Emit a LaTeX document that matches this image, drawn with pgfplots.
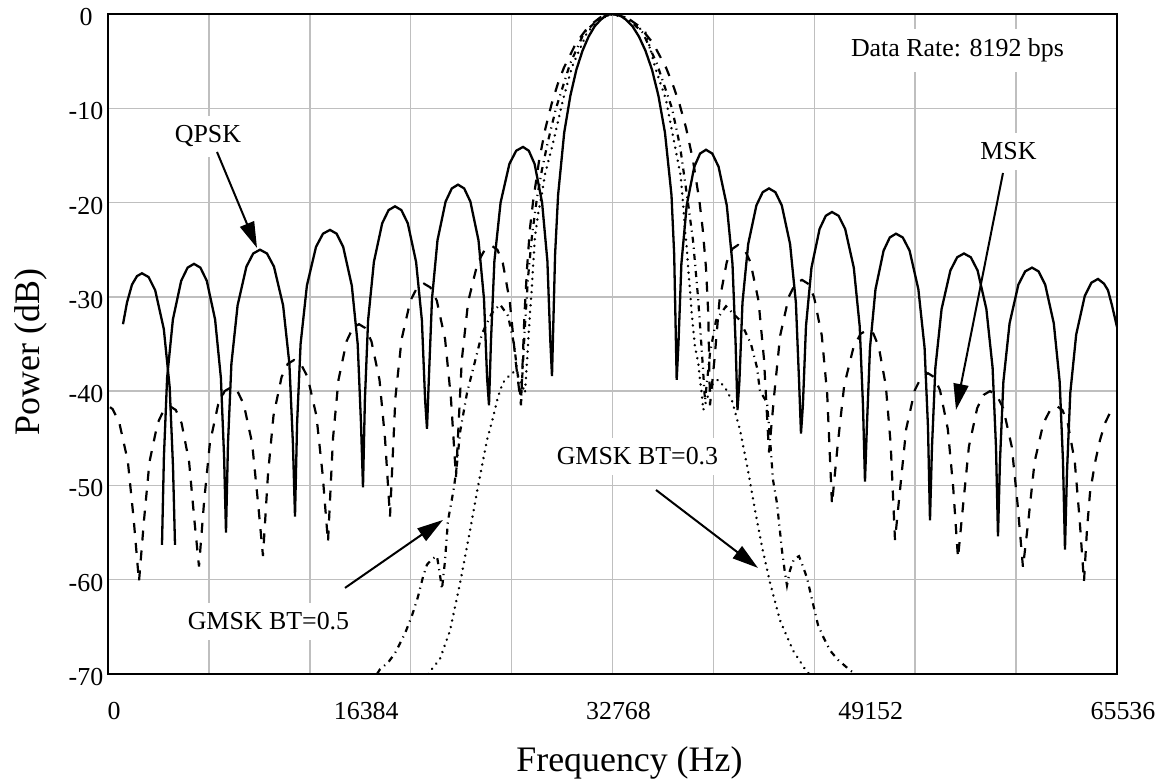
\documentclass[border=0pt]{standalone}
\usepackage{fontspec}
\setmainfont{Liberation Serif}
\usepackage{pgfplots}
\pgfplotsset{compat=1.18}
\usetikzlibrary{arrows.meta}
\begin{document}
\begin{tikzpicture}
\begin{axis}[
  scale only axis, width=504.5bp, height=330bp,
  xmin=0, xmax=65536, ymin=-70, ymax=0,
  scaled x ticks=false, scaled y ticks=false,
  xtick={0,16384,32768,49152,65536},
  xticklabels={0,16384,32768,49152,65536},
  ytick={-70,-60,-50,-40,-30,-20,-10,0},
  yticklabels={-70,-60,-50,-40,-30,-20,-10,0},
  minor xtick={6553.6,13107.2,19660.8,26214.4,32768,39321.6,45875.2,52428.8,58982.4},
  xminorgrids=true, xmajorgrids=false, ymajorgrids=true,
  minor grid style={gray!50, line width=0.75bp},
  major grid style={gray!50, line width=0.75bp},
  major tick length=0pt, minor tick length=0pt,
  axis line style={line width=1.2bp},
  tick label style={font=\fontsize{13}{15}\selectfont},
  xticklabel style={anchor=center, yshift=-18.5bp, xshift=3bp},
  yticklabel style={anchor=center, xshift=-11bp, yshift=-1.5bp},
  xlabel={Frequency (Hz)},
  ylabel={Power (dB)},
  xlabel style={font=\fontsize{18}{20}\selectfont, at={(axis description cs:0.5168,-0.147)}, anchor=base},
  ylabel style={font=\fontsize{18}{20}\selectfont, at={(axis description cs:-0.0763,0.488)}, anchor=center},
]
% QPSK
\addplot[black, line width=1.15bp] coordinates {
(974,-32.9) (1234,-30.6) (1559,-28.7) (1884,-27.8) (2208,-27.5) (2637,-27.9) (3066,-29.3) (3624,-33.4) (4007,-39.6) (4222,-48.0) (4352,-56.3)
};
\addplot[black, line width=1.15bp] coordinates {
(3507,-56.3) (3631,-47.0) (3839,-38.6) (4215,-32.4) (4754,-28.3) (5170,-26.9) (5586,-26.5) (6001,-26.9) (6417,-28.3) (6956,-32.4) (7333,-38.6) (7541,-47.0) (7664,-55)
(7794,-45.5) (8015,-37.1) (8418,-30.9) (8989,-26.8) (9431,-25.4) (9872,-25.0) (10327,-25.4) (10782,-26.8) (11373,-30.9) (11782,-37.1) (12009,-45.5) (12146,-53.3)
(12282,-43.4) (12509,-35.0) (12919,-28.8) (13510,-24.7) (13964,-23.3) (14419,-22.9) (14848,-23.3) (15276,-24.7) (15835,-28.8) (16218,-35.0) (16432,-43.4) (16562,-50.2)
(16686,-40.9) (16893,-32.5) (17270,-26.3) (17809,-22.2) (18225,-20.8) (18641,-20.4) (19056,-20.8) (19472,-22.2) (20011,-26.3) (20388,-32.5) (20596,-40.9) (20719,-44.0)
(20842,-38.6) (21044,-30.2) (21401,-24.0) (21927,-19.9) (22330,-18.5) (22733,-18.1) (23135,-18.5) (23538,-19.9) (24064,-24.0) (24421,-30.2) (24623,-38.6) (24746,-41.5)
(24876,-34.6) (25097,-26.2) (25499,-20.0) (26071,-15.9) (26513,-14.5) (26954,-14.1) (27331,-14.5) (27708,-15.9) (28195,-20.0) (28539,-26.2) (28727,-34.6) (28838,-38.4)
(29039,-25.5) (29234,-19.2) (29630,-12.6) (30026,-8.7) (30423,-5.9) (30819,-3.9) (31215,-2.4) (31611,-1.3) (32007,-0.6) (32404,-0.1) (32768,0)
(33222,-0.1) (33644,-0.6) (34066,-1.3) (34488,-2.4) (34911,-3.9) (35333,-5.9) (35755,-8.7) (36177,-12.6) (36599,-19.2) (36774,-25.5) (36937,-38.8)
(37054,-34.9) (37242,-26.5) (37587,-20.3) (38080,-16.2) (38457,-14.8) (38840,-14.4) (39249,-14.8) (39658,-16.2) (40191,-20.3) (40561,-26.5) (40763,-34.9) (40886,-42)
(41009,-39.0) (41211,-30.6) (41581,-24.4) (42114,-20.3) (42523,-18.9) (42932,-18.5) (43348,-18.9) (43763,-20.3) (44302,-24.4) (44679,-30.6) (44887,-39.0) (45010,-44.5)
(45134,-41.5) (45335,-33.1) (45692,-26.9) (46218,-22.8) (46621,-21.4) (47024,-21) (47452,-21.4) (47881,-22.8) (48440,-26.9) (48823,-33.1) (49037,-41.5) (49167,-49.6)
(49290,-43.8) (49492,-35.4) (49849,-29.2) (50375,-25.1) (50778,-23.7) (51181,-23.3) (51622,-23.7) (52064,-25.1) (52635,-29.2) (53038,-35.4) (53259,-43.8) (53389,-53.7)
(53519,-45.9) (53740,-37.5) (54142,-31.3) (54714,-27.2) (55156,-25.8) (55597,-25.4) (56039,-25.8) (56480,-27.2) (57052,-31.3) (57455,-37.5) (57676,-45.9) (57806,-55.4)
(57935,-47.4) (58156,-39.0) (58559,-32.8) (59131,-28.7) (59572,-27.3) (60014,-26.9) (60442,-27.3) (60871,-28.7) (61430,-32.8) (61813,-39.0) (62027,-47.4) (62157,-56.8)
(62287,-48.6) (62501,-40.2) (62885,-34.0) (63443,-29.9) (63872,-28.5) (64301,-28.1) (64690,-28.6) (64950,-29.3) (65210,-30.9) (65536,-33.2)
};
% MSK
\addplot[black, line width=1.1bp, dash pattern=on 5bp off 5bp] coordinates {
(130,-41.7) (299,-41.9) (727,-43.3) (1286,-47.4) (1669,-53.6) (2013,-60.2)
(2338,-53.7) (2695,-47.5) (3222,-43.4) (3624,-42.0) (4027,-41.6) (4404,-42.0) (4780,-43.4) (5267,-47.5) (5612,-53.7) (5910,-58.6)
(6242,-51.7) (6618,-45.5) (7157,-41.4) (7573,-40.0) (7989,-39.6) (8405,-40.0) (8820,-41.4) (9359,-45.5) (9736,-51.7) (10067,-57.5)
(10392,-48.8) (10749,-42.6) (11275,-38.5) (11678,-37.1) (12081,-36.7) (12522,-37.1) (12964,-38.5) (13535,-42.6) (13938,-48.8) (14289,-56)
(14614,-45.0) (14971,-38.8) (15497,-34.7) (15900,-33.3) (16302,-32.9) (16705,-33.3) (17108,-34.7) (17634,-38.8) (17991,-45.0) (18316,-53.3)
(18667,-40.7) (19069,-34.5) (19641,-30.4) (20083,-29.0) (20524,-28.6) (20940,-29.0) (21356,-30.4) (21895,-34.5) (22271,-40.7) (22603,-49.1)
(22979,-36.7) (23395,-30.5) (24006,-26.4) (24473,-25.0) (24941,-24.6) (25292,-25.0) (25642,-26.4) (26097,-30.5) (26468,-36.7) (26824,-41.5)
(27052,-31.8) (27220,-26.9) (27402,-22.8) (27617,-19.8) (28013,-15.4) (28416,-12.1) (28812,-9.54) (29208,-7.44) (29611,-5.7) (30403,-3.07) (31208,-1.33) (32001,-0.33) (32768,0)
(33664,-0.33) (34527,-1.33) (35391,-3.07) (36249,-5.7) (36677,-7.44) (37119,-9.54) (37548,-12.1) (37983,-15.4) (38411,-19.8) (38626,-22.8) (38840,-26.9) (38989,-31.8) (39100,-41.5)
(39392,-36.6) (39717,-30.4) (40191,-26.3) (40555,-24.9) (40919,-24.5) (41321,-24.9) (41724,-26.3) (42250,-30.4) (42607,-36.6) (42932,-46.5)
(43276,-40.3) (43659,-34.1) (44218,-30.0) (44647,-28.6) (45075,-28.2) (45465,-28.6) (45855,-30.0) (46361,-34.1) (46712,-40.3) (47024,-52)
(47400,-45.6) (47816,-39.4) (48427,-35.3) (48894,-33.9) (49362,-33.5) (49713,-33.9) (50063,-35.3) (50518,-39.4) (50836,-45.6) (51116,-55.8)
(51460,-50.2) (51843,-44.0) (52402,-39.9) (52830,-38.5) (53259,-38.1) (53649,-38.5) (54038,-39.9) (54545,-44.0) (54896,-50.2) (55208,-57.7)
(55539,-52.1) (55915,-45.9) (56455,-41.8) (56870,-40.4) (57286,-40) (57715,-40.4) (58143,-41.8) (58702,-45.9) (59085,-52.1) (59429,-58.7)
(59780,-53.7) (60183,-47.5) (60754,-43.4) (61196,-42.0) (61638,-41.6) (61988,-42.0) (62339,-43.4) (62794,-47.5) (63112,-53.7) (63391,-60.2)
(63586,-54.7) (63781,-50.8) (64106,-47.6) (64430,-45.2) (64755,-43.4) (65080,-42.3) (65536,-41.8)
};
% GMSK BT=0.5
\addplot[black, line width=1.1bp, dash pattern=on 3bp off 2.5bp on 0.6bp off 2.5bp] coordinates {
(17472,-70) (17666,-69.5) (18186,-68.8) (18641,-67.8) (19290,-65.7) (19745,-63.8) (20135,-61.8) (20459,-59.7) (20719,-58.4) (21044,-57.8) (21369,-57.5) (21563,-59.5) (21693,-61) (21888,-58) (22083,-53.7) (22213,-52.6) (22473,-50.2) (22668,-47.7) (22862,-44.4) (23317,-40.2) (23967,-36) (24291,-33.9) (24941,-31.7) (25460,-30.8) (25980,-32) (26370,-35) (26630,-38.5) (26824,-41) (26922,-38) (27084,-33) (27279,-28) (27539,-23.5) (27864,-19.5) (28188,-16.5) (28578,-13.5) (29098,-10) (30007,-5.3) (30916,-2) (31955,-0.4) (32768,0)
(33709,-0.4) (34748,-2) (35658,-5.3) (36632,-10) (37151,-14) (37671,-20) (37996,-24) (38321,-30) (38580,-36) (38775,-41) (39100,-36) (39490,-32.5) (40139,-31) (41048,-32.5) (41763,-35) (42153,-37.5) (42347,-40) (42802,-41.2) (42997,-45) (43192,-49.4) (43452,-51.9) (43776,-56.9) (43971,-59.3) (44101,-60.6) (44296,-59) (44556,-57.8) (44880,-57.5) (45140,-58.6) (45400,-59.8) (45725,-62.1) (46115,-64.8) (46439,-66) (46894,-67.5) (47414,-68.5) (48193,-69.6) (48518,-70)
};
% GMSK BT=0.3
\addplot[black, line width=1.35bp, line cap=round, dash pattern=on 0.01bp off 3.3bp] coordinates {
(20784,-70) (21563,-68.4) (22213,-65.4) (22862,-60.4) (23512,-54.8) (24032,-50.1) (24616,-45.2) (25006,-42.8) (25331,-40.6) (25655,-39.1) (25980,-38.5) (26305,-38) (26565,-38.2) (26824,-39) (27084,-40.2) (27195,-37.4) (27298,-34.6) (27409,-31.7) (27519,-29.3) (27623,-26.4) (27734,-23.6) (27948,-21.1) (28169,-19.2) (28383,-17) (28903,-13.7) (29552,-9.1) (30137,-5.6) (31111,-2) (31955,-0.5) (32768,0)
(33644,-0.5) (34943,-2) (35528,-5.6) (36242,-9.1) (36762,-13.5) (37200,-17.2) (37366,-20.4) (37476,-22.9) (37587,-24.7) (37690,-27.1) (37801,-29.3) (37911,-31.7) (38015,-33.5) (38126,-35.3) (38340,-37) (38450,-38.8) (38561,-40.2) (38665,-42) (38970,-40.5) (39295,-39.2) (39620,-38.8) (40074,-39.6) (40529,-41) (41048,-44.1) (41568,-48.4) (42023,-52.6) (42477,-56.5) (42997,-60.3) (43646,-64.3) (44491,-67.5) (45400,-69.8) (45595,-70)
};
% annotations
\node[anchor=base, fill=white, inner sep=5bp, font=\fontsize{13}{15}\selectfont] at (axis cs:6495,-13.68) {QPSK};
\node[anchor=base, fill=white, inner sep=5bp, font=\fontsize{13}{15}\selectfont] at (axis cs:58487,-15.48) {MSK};
\node[anchor=base, fill=white, inner sep=5bp, font=\fontsize{13}{15}\selectfont] at (axis cs:55175,-4.51) {Data Rate: 8192 bps};
\node[anchor=base, fill=white, inner sep=5bp, font=\fontsize{13}{15}\selectfont] at (axis cs:10424,-65.32) {GMSK BT=0.5};
\node[anchor=base, fill=white, inner sep=5bp, font=\fontsize{13}{15}\selectfont] at (axis cs:34391,-47.83) {GMSK BT=0.3};
\draw[-{Triangle[length=13bp,width=7.5bp]}, line width=1bp] (axis cs:7080,-14.63) -- (axis cs:9678,-24.81);
\draw[-{Triangle[length=13bp,width=7.5bp]}, line width=1bp] (axis cs:58130,-16.86) -- (axis cs:55078,-41.99);
\draw[-{Triangle[length=13bp,width=7.5bp]}, line width=1bp] (axis cs:15393,-60.87) -- (axis cs:21758,-53.66);
\draw[-{Triangle[length=13bp,width=7.5bp]}, line width=1bp] (axis cs:35593,-50.48) -- (axis cs:42218,-58.75);
\end{axis}
\pgfresetboundingbox
\path[use as bounding box] ([shift={(-54bp,-54bp)}]current axis.south west) rectangle ([shift={(26.5bp,7bp)}]current axis.north east);
\end{tikzpicture}
\end{document}
